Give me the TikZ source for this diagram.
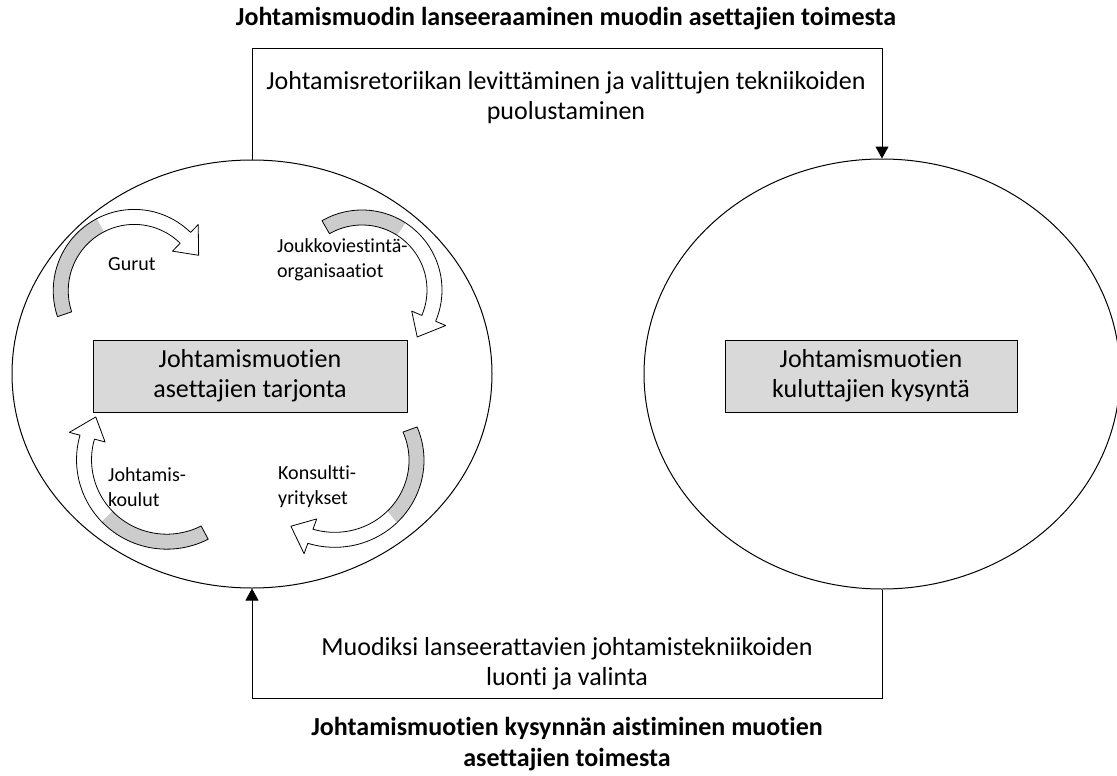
\documentclass[tikz,border=0pt]{standalone}
\usepackage{fontspec}
\setmainfont{Carlito}[Ligatures=NoCommon]
\usetikzlibrary{shapes.geometric,arrows.meta}
\definecolor{boxgray}{RGB}{217,217,217}
\definecolor{tailgray}{RGB}{204,204,204}

% Curved band arrow: #1,#2 centre; #3 tail angle; #4 angle where the
% shaded tail turns into the white front; #5 angle of the head base;
% #6,#7 outer radius at tail and at head.
\newcommand{\swirl}[7]{%
  \pgfmathsetmacro{\swk}{(#7-#6)/(#5-#3)}%
  \pgfmathsetmacro{\swdel}{22/(#7-7.5)*57.2958}%
  % shaded back part
  \fill[tailgray]
    plot[domain=#3:#4,samples=30]
      ({#1+(#6+(\x-#3)*\swk)*cos(\x)},{#2+(#6+(\x-#3)*\swk)*sin(\x)})
    -- plot[domain=#3:#4,samples=30]
      ({#1+(#6+(#4-\x)*\swk-15)*cos(#3+#4-\x)},{#2+(#6+(#4-\x)*\swk-15)*sin(#3+#4-\x)})
    -- cycle;
  \draw[line width=0.8pt,line join=round]
    plot[domain=#3:#4,samples=30]
      ({#1+(#6+(#4+#3-\x-#3)*\swk)*cos(#4+#3-\x)},{#2+(#6+(#4+#3-\x-#3)*\swk)*sin(#4+#3-\x)})
    -- plot[domain=#3:#4,samples=30]
      ({#1+(#6+(\x-#3)*\swk-15)*cos(\x)},{#2+(#6+(\x-#3)*\swk-15)*sin(\x)});
  % white front part with the head
  \fill[white]
    plot[domain=#4:#5,samples=30]
      ({#1+(#6+(\x-#3)*\swk)*cos(\x)},{#2+(#6+(\x-#3)*\swk)*sin(\x)})
    -- ({#1+(#7+11)*cos(#5)},{#2+(#7+11)*sin(#5)})
    -- ({#1+(#7-7.5)*cos(#5+\swdel)},{#2+(#7-7.5)*sin(#5+\swdel)})
    -- ({#1+(#7-26)*cos(#5)},{#2+(#7-26)*sin(#5)})
    -- plot[domain=#4:#5,samples=30]
      ({#1+(#6+(#4+#5-\x-#3)*\swk-15)*cos(#4+#5-\x)},{#2+(#6+(#4+#5-\x-#3)*\swk-15)*sin(#4+#5-\x)})
    -- cycle;
  \draw[line width=0.8pt,line join=round]
    plot[domain=#4:#5,samples=30]
      ({#1+(#6+(\x-#3)*\swk)*cos(\x)},{#2+(#6+(\x-#3)*\swk)*sin(\x)})
    -- ({#1+(#7+11)*cos(#5)},{#2+(#7+11)*sin(#5)})
    -- ({#1+(#7-7.5)*cos(#5+\swdel)},{#2+(#7-7.5)*sin(#5+\swdel)})
    -- ({#1+(#7-26)*cos(#5)},{#2+(#7-26)*sin(#5)})
    -- plot[domain=#4:#5,samples=30]
      ({#1+(#6+(#4+#5-\x-#3)*\swk-15)*cos(#4+#5-\x)},{#2+(#6+(#4+#5-\x-#3)*\swk-15)*sin(#4+#5-\x)});
}

\begin{document}
\begin{tikzpicture}[x=1pt,y=-1pt,
  round/.style={ellipse,draw,line width=1pt,inner sep=0pt,minimum width=480pt,minimum height=428pt},
  actor/.style={rectangle,draw,line width=1pt,fill=boxgray,align=center,
    font=\fontsize{26}{30}\selectfont,inner sep=0pt},
  flowtext/.style={align=center,font=\fontsize{26}{30}\selectfont},
  headline/.style={align=center,font=\fontsize{26}{31}\selectfont\bfseries},
  sidelabel/.style={align=left,anchor=west,font=\fontsize{20}{25}\selectfont,inner sep=0pt},
  link/.style={line width=1pt},
  linkarrow/.style={link,-{Triangle[width=13pt,length=12pt]}}
]
\useasboundingbox (0,0) rectangle (1117,776);

% the two populations
\node[round] (L) at (252,374) {};
\node[round,minimum width=476pt,minimum height=430pt] (R) at (882,374) {};

% cycle of fashion setters inside the supply side
\swirl{135}{290}{161}{242}{314}{82}{80}
\swirl{362}{290}{240}{303}{383}{80}{80}
\swirl{165}{458}{62}{135}{195}{92}{88}
\swirl{340}{455}{340}{410}{470}{82}{94}

\node[sidelabel] (gurut) at (108,264) {Gurut};
\node[sidelabel] (media) at (277,260) {Joukkoviestintä-\\organisaatiot};
\node[sidelabel] (schools) at (108,487) {Johtamis-\\koulut};
\node[sidelabel] (consult) at (278,487) {Konsultti-\\yritykset};

\node[actor,minimum width=314pt,minimum height=72pt] (supply) at (250,376)
  {Johtamismuotien\\asettajien tarjonta};
\node[actor,minimum width=292pt,minimum height=72pt] (demand) at (871,376)
  {Johtamismuotien\\kuluttajien kysyntä};

% texts around the loop
\node[headline] (launch) at (566,19) {Johtamismuodin lanseeraaminen muodin asettajien toimesta};
\node[flowtext] (spread) at (566,98) {Johtamisretoriikan levittäminen ja valittujen tekniikoiden\\puolustaminen};
\node[flowtext] (create) at (567,664) {Muodiksi lanseerattavien johtamistekniikoiden\\luonti ja valinta};
\node[headline] (sense) at (567,744) {Johtamismuotien kysynnän aistiminen muotien\\asettajien toimesta};

% the loop between supply and demand
\coordinate (topline) at (0,49);
\coordinate (bottomline) at (0,698);
\draw[linkarrow] (L.north) -- (L.north |- topline) -- (R.north |- topline) -- (R.north);
\draw[linkarrow] (R.south) -- (R.south |- bottomline) -- (L.south |- bottomline) -- (L.south);
\end{tikzpicture}
\end{document}
